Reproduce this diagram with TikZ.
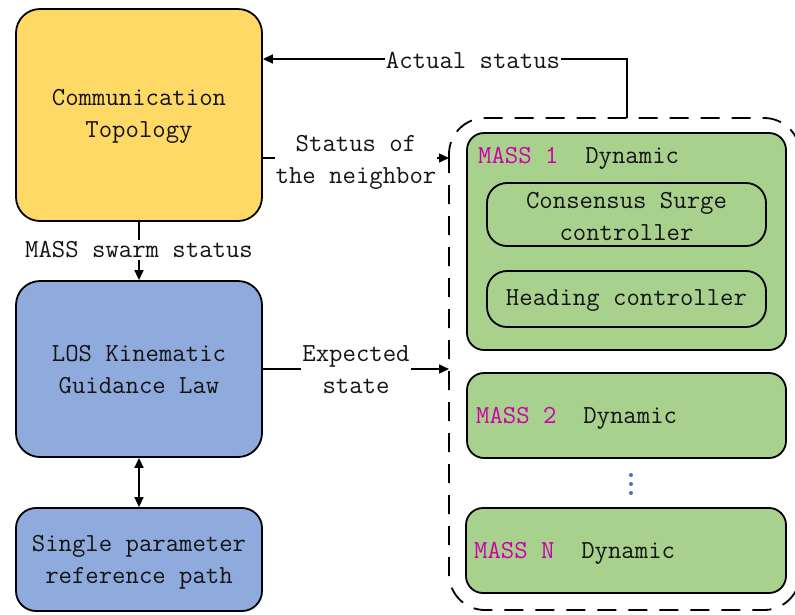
\documentclass[tikz,border=0pt]{standalone}
\usetikzlibrary{arrows.meta}
\definecolor{topoYellow}{HTML}{FFD966}
\definecolor{guideBlue}{HTML}{8FAADC}
\definecolor{shipGreen}{HTML}{A9D18E}
\definecolor{massPink}{RGB}{204,0,170}
\definecolor{dotBlue}{HTML}{4472C4}
\begin{document}
\begin{tikzpicture}[x=1pt,y=-1pt,
  txt/.style={font=\ttfamily\fontsize{26}{32}\selectfont, align=center, text=black!92},
  box/.style={draw, line width=1.8pt, rounded corners=24pt, inner sep=0pt},
  greenbox/.style={draw, line width=1.8pt, rounded corners=17pt, inner sep=0pt, fill=shipGreen},
  subbox/.style={draw, line width=1.8pt, rounded corners=20pt, inner sep=0pt},
  conn/.style={line width=1.5pt, -{Triangle[length=10pt,width=9pt]}},
  lbl/.style={txt, fill=white, inner sep=1pt},
  grp/.style={line width=1.8pt, dash pattern=on 19pt off 12pt, rounded corners=36pt}
]
\useasboundingbox (0,0) rectangle (795,614);
\clip (0,0) rectangle (795,614);

% left column
\node[box, fill=topoYellow, minimum width=246pt, minimum height=212pt] (comm) at (139,115) {};
\node[box, fill=guideBlue, minimum width=246pt, minimum height=176pt] (los) at (139,369) {};
\node[box, fill=guideBlue, rounded corners=20pt, minimum width=246pt, minimum height=103pt] (path) at (139,559.5) {};
\node[txt] (commT) at (139,116) {Communication\\Topology};
\node[txt] (losT) at (139,370) {LOS Kinematic\\Guidance Law};
\node[txt] (pathT) at (139,562) {Single parameter\\reference path};

% dashed group of vessel dynamics
\draw[grp] (449,118) rectangle (800,610);
\coordinate (grpTop) at (627,118);
\coordinate (grpIn1) at (449,158);
\coordinate (grpIn2) at (449,369);

% vessel blocks
\node[greenbox, minimum width=319pt, minimum height=217pt] (m1) at (626.5,241.5) {};
\node[subbox, minimum width=279pt, minimum height=63pt] (cons) at (626.5,214.5) {};
\node[subbox, minimum width=279pt, minimum height=56pt] (head) at (626.5,299) {};
\node[txt] (consT) at (626.5,216) {Consensus Surge\\controller};
\node[txt] (headT) at (626.5,300.5) {Heading controller};
\node[greenbox, minimum width=319pt, minimum height=85pt] (m2) at (626.5,415.5) {};
\node[greenbox, minimum width=320pt, minimum height=85pt] (mN) at (626,550.5) {};

\node[txt, anchor=west, inner sep=0pt] (m1t) at (478,158.5)
  {\textcolor{massPink}{MASS 1}\ \ Dynamic};
\node[txt, anchor=west, inner sep=0pt] (m2t) at (476,418.5)
  {\textcolor{massPink}{MASS 2}\ \ Dynamic};
\node[txt, anchor=west, inner sep=0pt] (mNt) at (474,553.5)
  {\textcolor{massPink}{MASS N}\ \ Dynamic};

% vertical ellipsis between blocks
\foreach \yy in {475,484,493} \fill[dotBlue] (631,\yy) circle (2pt);

% connectors
\draw[conn] (grpTop) |- (comm.east |- 0,59);
\node[lbl] (actual) at (473,60) {Actual status};

\draw[conn] (comm.east |- grpIn1) -- (grpIn1);
\node[lbl] (nbr) at (356,162) {Status of\\the neighbor};

\draw[conn] (comm.south) -- (los.north);
\node[lbl, inner sep=2pt] (swarm) at (139,250) {MASS swarm status};

\draw[conn] (los.east |- grpIn2) -- (grpIn2);
\node[lbl] (exp) at (356,370) {Expected\\state};

\draw[line width=1.5pt, {Triangle[length=10pt,width=9pt]}-{Triangle[length=10pt,width=9pt]}] (los.south) -- (path.north);
\end{tikzpicture}
\end{document}
